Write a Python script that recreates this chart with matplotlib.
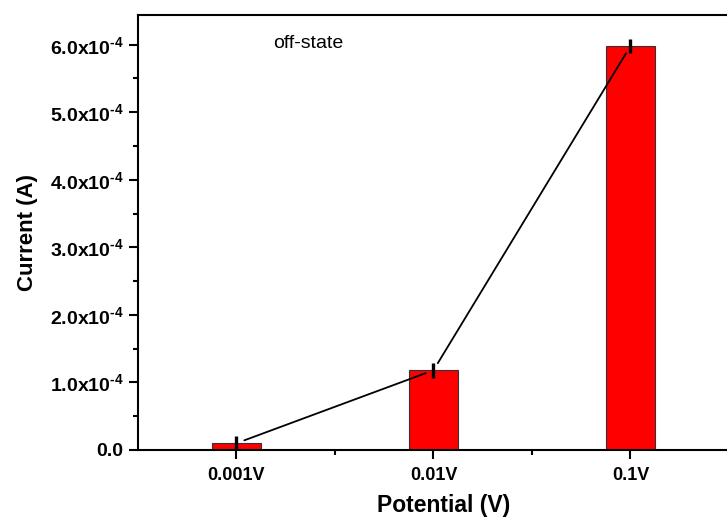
import numpy as np
import matplotlib
matplotlib.use("Agg")
import matplotlib.pyplot as plt
from matplotlib.ticker import FuncFormatter, MultipleLocator, FixedLocator

# Datos
potentials = ["0.001V", "0.01V", "0.1V"]
current = [1.0e-5, 1.18e-4, 5.98e-4]
current_err = [1.1e-5, 1.1e-5, 1.1e-5]

plt.rcParams["font.family"] = ["Liberation Sans", "DejaVu Sans"]
plt.rcParams["mathtext.fontset"] = "custom"
plt.rcParams["mathtext.rm"] = "Liberation Sans:bold"
plt.rcParams["mathtext.it"] = "Liberation Sans:bold"
plt.rcParams["mathtext.bf"] = "Liberation Sans:bold"


def fmt_current(v, pos):
    if abs(v) < 1e-12:
        return "0.0"
    return "%.1fx10$^{\u2010 4}$" % (v / 1e-4)


def main():
    fig = plt.figure(figsize=(7.27, 5.21), dpi=100)
    ax = fig.add_axes([0.1898, 0.1363, 0.84, 0.835])

    x = np.arange(len(potentials))
    ax.bar(x, current, width=0.25, color="#FF0000", edgecolor="#333333",
           linewidth=0.8, zorder=2)
    ax.errorbar(x, current, yerr=current_err, fmt="none", ecolor="black",
                elinewidth=2.4, capsize=0, zorder=3)

    # linea que une los puntos, con un pequeño hueco en cada extremo
    for i in range(len(x) - 1):
        ax.annotate("", xy=(x[i + 1], current[i + 1]), xytext=(x[i], current[i]),
                    arrowprops=dict(arrowstyle="-", color="black", lw=1.3,
                                    shrinkA=6, shrinkB=6), zorder=4)

    ax.set_xlim(-0.5, 2.6)
    ax.set_ylim(0, 6.44e-4)

    ax.set_xticks(x)
    ax.set_xticklabels(potentials)
    ax.xaxis.set_minor_locator(FixedLocator([0.5, 1.5]))
    ax.yaxis.set_major_locator(MultipleLocator(1e-4))
    ax.yaxis.set_minor_locator(MultipleLocator(0.5e-4))
    ax.yaxis.set_major_formatter(FuncFormatter(fmt_current))

    ax.tick_params(which="major", direction="out", length=6.5, width=1.5)
    ax.tick_params(axis="x", which="major", labelsize=13, pad=6)
    ax.tick_params(axis="y", which="major", labelsize=14, pad=4)
    ax.tick_params(which="minor", direction="out", length=3.5, width=1.5)
    ax.tick_params(top=False, right=False, which="both")
    for lab in ax.get_xticklabels() + ax.get_yticklabels():
        lab.set_fontweight("bold")

    for s in ax.spines.values():
        s.set_linewidth(1.5)

    ax.set_xlabel("Potential (V)", fontsize=16.5, fontweight="bold", labelpad=7)
    ax.set_ylabel("Current (A)", fontsize=16, fontweight="bold")
    ax.yaxis.set_label_coords(-0.163, 0.5)

    ax.text(0.221, 0.935, "off-state", transform=ax.transAxes, fontsize=14,
            va="center", ha="left")

    fig.savefig("out.png", dpi=100)
    plt.close(fig)


if __name__ == "__main__":
    main()
